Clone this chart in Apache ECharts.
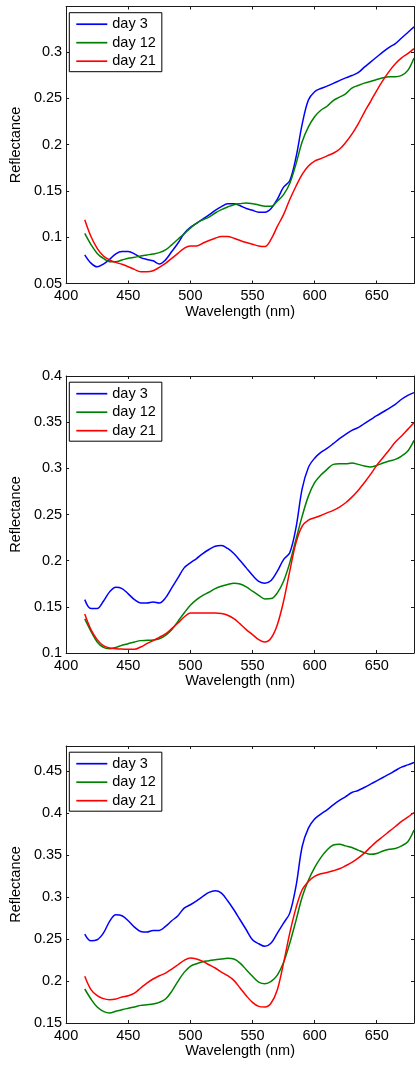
<!DOCTYPE html>
<html>
<head>
<meta charset="utf-8">
<script src="https://cdn.jsdelivr.net/npm/echarts@6/dist/echarts.min.js"></script>
<style>
  html, body { margin: 0; padding: 0; background: #fff; }
  #chart { width: 417px; height: 1066px; }
</style>
</head>
<body>
<div id="chart"></div>
<script>
// wavelength samples (nm)
var wavelength = [415, 420, 425, 430, 435, 440, 445, 450, 455, 460, 465, 470, 475, 480, 485, 490, 495, 500,
  505, 510, 515, 520, 525, 530, 535, 540, 545, 550, 555, 560, 565, 570, 575, 580, 585, 590,
  595, 600, 605, 610, 615, 620, 625, 630, 635, 640, 645, 650, 655, 660, 665, 670, 675, 680]

var seriesNames = ['day 3', 'day 12', 'day 21']
var xTicks = [400, 450, 500, 550, 600, 650]

// panel 1
var p1Day3 = [0.081, 0.072, 0.068, 0.071, 0.076, 0.082, 0.0845, 0.0845, 0.082, 0.078, 0.076, 0.0745, 0.071, 0.0755, 0.0845, 0.0935, 0.104, 0.1105,
  0.115, 0.1195, 0.124, 0.129, 0.133, 0.136, 0.136, 0.134, 0.131, 0.129, 0.127, 0.127, 0.131, 0.141, 0.154, 0.161, 0.186, 0.222,
  0.248, 0.257, 0.2605, 0.263, 0.266, 0.269, 0.272, 0.2745, 0.2775, 0.2835, 0.289, 0.2945, 0.3, 0.305, 0.309, 0.315, 0.321, 0.327]
var p1Day12 = [0.104, 0.092, 0.0825, 0.077, 0.0736, 0.0736, 0.0754, 0.0772, 0.0783, 0.0797, 0.0808, 0.0819, 0.0833, 0.0862, 0.0917, 0.0978, 0.1036, 0.1098,
  0.1152, 0.1188, 0.1217, 0.1261, 0.1297, 0.1326, 0.1351, 0.1362, 0.137, 0.1362, 0.1348, 0.1333, 0.1333, 0.1388, 0.146, 0.158, 0.179, 0.203,
  0.219, 0.23, 0.237, 0.2413, 0.2475, 0.2511, 0.2547, 0.2609, 0.2638, 0.2663, 0.2681, 0.2703, 0.2721, 0.2732, 0.2732, 0.2746, 0.28, 0.2935]
var p1Day21 = [0.1188, 0.1007, 0.088, 0.0797, 0.0754, 0.0728, 0.0707, 0.0681, 0.0652, 0.0627, 0.0627, 0.0638, 0.0674, 0.0717, 0.0772, 0.0826, 0.088, 0.0906,
  0.0906, 0.0935, 0.0964, 0.0989, 0.1007, 0.1007, 0.0989, 0.0964, 0.0942, 0.0924, 0.0905, 0.0899, 0.0978, 0.1116, 0.1243, 0.1406, 0.155, 0.1678,
  0.1768, 0.1822, 0.1848, 0.1877, 0.1906, 0.1949, 0.2022, 0.2112, 0.2221, 0.2348, 0.2464, 0.2583, 0.2692, 0.279, 0.2873, 0.2935, 0.2982, 0.3036]

// panel 2
var p2Day3 = [0.1578, 0.1481, 0.1481, 0.156, 0.1662, 0.1712, 0.1698, 0.164, 0.1578, 0.1542, 0.1542, 0.1553, 0.1542, 0.1597, 0.1705, 0.1813, 0.1922, 0.1976,
  0.2023, 0.2077, 0.2121, 0.2157, 0.2164, 0.2132, 0.2077, 0.2001, 0.1922, 0.1842, 0.1777, 0.1756, 0.1785, 0.1886, 0.2012, 0.2085, 0.2356, 0.278,
  0.301, 0.311, 0.3173, 0.3216, 0.3267, 0.3321, 0.3368, 0.3411, 0.344, 0.3484, 0.3527, 0.357, 0.361, 0.365, 0.3693, 0.3748, 0.3791, 0.382]
var p2Day12 = [0.1369, 0.1235, 0.1119, 0.1061, 0.1047, 0.1061, 0.1083, 0.1101, 0.1119, 0.1134, 0.1137, 0.1141, 0.1155, 0.1192, 0.1253, 0.1343, 0.1434, 0.1517,
  0.1578, 0.1625, 0.1658, 0.1698, 0.1723, 0.1741, 0.1756, 0.1748, 0.1716, 0.1669, 0.1625, 0.1586, 0.1589, 0.1651, 0.1777, 0.1976, 0.2229, 0.2482,
  0.2699, 0.2844, 0.2927, 0.2988, 0.3043, 0.305, 0.305, 0.3057, 0.3043, 0.3025, 0.3014, 0.3032, 0.3057, 0.3079, 0.3097, 0.3133, 0.3187, 0.3303]
var p2Day21 = [0.1423, 0.1253, 0.1145, 0.108, 0.1054, 0.1047, 0.1043, 0.104, 0.104, 0.1065, 0.1101, 0.1134, 0.117, 0.1206, 0.1264, 0.1325, 0.139, 0.1434,
  0.1434, 0.1434, 0.1434, 0.1434, 0.1427, 0.1409, 0.1372, 0.1315, 0.1253, 0.1199, 0.1145, 0.1119, 0.1163, 0.1307, 0.156, 0.1886, 0.2193, 0.2374,
  0.2439, 0.2464, 0.2489, 0.2518, 0.2544, 0.258, 0.2627, 0.2688, 0.2761, 0.2844, 0.2934, 0.3032, 0.3115, 0.3198, 0.3285, 0.335, 0.3422, 0.3495]

// panel 3
var p3Day3 = [0.256, 0.248, 0.2492, 0.2571, 0.271, 0.279, 0.2778, 0.2718, 0.2643, 0.2591, 0.2583, 0.2603, 0.2603, 0.2651, 0.2718, 0.2778, 0.2869, 0.2909,
  0.2956, 0.3008, 0.3056, 0.3075, 0.3048, 0.2956, 0.2849, 0.273, 0.2611, 0.2492, 0.2444, 0.2413, 0.2452, 0.2571, 0.269, 0.2809, 0.3127, 0.3603,
  0.3821, 0.3929, 0.3988, 0.404, 0.4099, 0.4151, 0.4198, 0.4246, 0.427, 0.4306, 0.4345, 0.4385, 0.4425, 0.4464, 0.4508, 0.4548, 0.4575, 0.4603]
var p3Day12 = [0.1905, 0.1786, 0.169, 0.1639, 0.1619, 0.1639, 0.1659, 0.1675, 0.169, 0.171, 0.1718, 0.1726, 0.1746, 0.1786, 0.1877, 0.1996, 0.2103, 0.2175,
  0.2206, 0.223, 0.2242, 0.2254, 0.2262, 0.227, 0.2262, 0.2214, 0.2135, 0.2056, 0.1988, 0.1968, 0.1996, 0.207, 0.222, 0.245, 0.272, 0.3,
  0.32, 0.335, 0.347, 0.356, 0.362, 0.363, 0.361, 0.359, 0.356, 0.353, 0.351, 0.352, 0.355, 0.357, 0.358, 0.361, 0.366, 0.38]
var p3Day21 = [0.2056, 0.1897, 0.1825, 0.179, 0.1778, 0.1786, 0.181, 0.1825, 0.1857, 0.1917, 0.1976, 0.2024, 0.2063, 0.2095, 0.2143, 0.2194, 0.2246, 0.2274,
  0.2262, 0.2234, 0.2194, 0.2155, 0.2107, 0.2063, 0.2008, 0.1917, 0.1825, 0.1746, 0.1698, 0.169, 0.1738, 0.1897, 0.2214, 0.2571, 0.2869, 0.3087,
  0.3187, 0.3246, 0.3278, 0.3294, 0.3313, 0.3337, 0.3373, 0.3413, 0.3464, 0.3524, 0.3595, 0.3663, 0.3722, 0.3782, 0.3841, 0.3901, 0.3952, 0.4008]

var panels = [
  { top: 6.5, yMin: 0.05, yMax: 0.349, data: [p1Day3, p1Day12, p1Day21] },
  { top: 376, yMin: 0.1, yMax: 0.4, data: [p2Day3, p2Day12, p2Day21] },
  { top: 746, yMin: 0.15, yMax: 0.48, data: [p3Day3, p3Day12, p3Day21] },
]

var colors = ['#0000ff', '#008000', '#ff0000']
var FONT = "'Liberation Sans', Arial, sans-serif"
var FS = 14.5
var AXIS_COLOR = '#1a1a1a'

function onStep(v, step) {
  return Math.abs(v / step - Math.round(v / step)) < 1e-6
}

var myChart = echarts.init(document.getElementById('chart'), null, { renderer: 'canvas' })

var grid = [], xAxis = [], yAxis = [], series = [], legend = []

panels.forEach(function (p, i) {
  grid.push({ left: 64.5, top: p.top, width: 351.5, height: 277, containLabel: false })

  // bottom axis
  xAxis.push({
    type: 'value', gridIndex: i, min: 400, max: 680, interval: 50,
    name: 'Wavelength (nm)', nameLocation: 'middle', nameGap: 18,
    nameTextStyle: { fontFamily: FONT, fontSize: FS, color: '#000' },
    axisLine: { lineStyle: { color: AXIS_COLOR, width: 1 } },
    axisTick: { inside: true, length: 3, lineStyle: { color: AXIS_COLOR } },
    axisLabel: {
      margin: 5, fontFamily: FONT, fontSize: FS, color: '#000',
      formatter: function (v) { return xTicks.indexOf(v) >= 0 ? String(v) : '' },
    },
    splitLine: { show: false },
  })
  // top mirror axis
  xAxis.push({
    type: 'value', gridIndex: i, position: 'top', min: 400, max: 680, interval: 50,
    axisLine: { lineStyle: { color: AXIS_COLOR, width: 1 } },
    axisTick: { inside: true, length: 3, lineStyle: { color: AXIS_COLOR } },
    axisLabel: { show: false },
    splitLine: { show: false },
  })
  // left axis
  yAxis.push({
    type: 'value', gridIndex: i, min: p.yMin, max: p.yMax, interval: 0.05,
    name: 'Reflectance', nameLocation: 'middle', nameGap: 37, nameRotate: 90,
    nameTextStyle: { fontFamily: FONT, fontSize: FS, color: '#000' },
    axisLine: { show: true, lineStyle: { color: AXIS_COLOR, width: 1 } },
    axisTick: { show: true, inside: true, length: 3, lineStyle: { color: AXIS_COLOR } },
    axisLabel: {
      margin: 4, fontFamily: FONT, fontSize: FS, color: '#000',
      formatter: function (v) { return onStep(v, 0.05) ? String(+v.toFixed(2)) : '' },
    },
    splitLine: { show: false },
  })
  // right mirror axis
  yAxis.push({
    type: 'value', gridIndex: i, position: 'right', min: p.yMin, max: p.yMax, interval: 0.05,
    axisLine: { show: true, lineStyle: { color: AXIS_COLOR, width: 1 } },
    axisTick: { show: true, inside: true, length: 3, lineStyle: { color: AXIS_COLOR } },
    axisLabel: { show: false },
    splitLine: { show: false },
  })

  p.data.forEach(function (vals, k) {
    series.push({
      name: seriesNames[k],
      type: 'line',
      xAxisIndex: i * 2,
      yAxisIndex: i * 2,
      data: wavelength.map(function (w, j) { return [w, vals[j]] }),
      showSymbol: false,
      symbol: 'none',
      smooth: 0.35,
      lineStyle: { color: colors[k], width: 1.5 },
      itemStyle: { color: colors[k] },
      silent: true,
      animation: false,
    })
  })

  legend.push({
    orient: 'vertical',
    left: 69.3,
    top: p.top + 6.2,
    data: seriesNames,
    icon: 'rect',
    itemWidth: 31,
    itemHeight: 1.7,
    itemGap: 3.5,
    padding: [4, 6, 3, 7],
    borderColor: '#000',
    borderWidth: 1,
    backgroundColor: '#fff',
    selectedMode: false,
    textStyle: { fontFamily: FONT, fontSize: FS, color: '#000' },
  })
})

myChart.setOption({
  backgroundColor: '#fff',
  animation: false,
  grid: grid,
  xAxis: xAxis,
  yAxis: yAxis,
  legend: legend,
  series: series,
})
</script>
</body>
</html>
